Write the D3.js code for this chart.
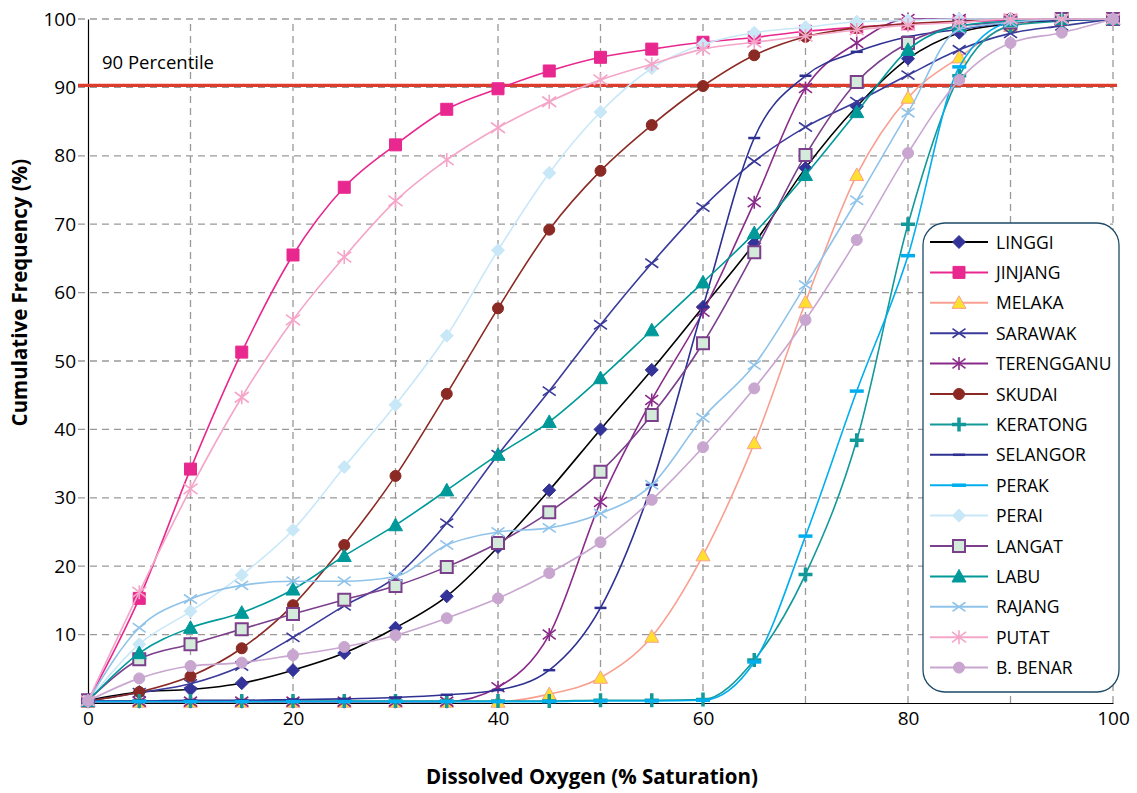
<!DOCTYPE html>
<html><head><meta charset="utf-8">
<script src="https://cdn.jsdelivr.net/npm/d3@7"></script>
<style>
html,body{margin:0;padding:0;background:#fff;}
svg{display:block;font-family:"Open Sans","Noto Sans",sans-serif;}
</style></head>
<body><svg id="c" width="1137" height="793"></svg>
<script>
const xValues = [0,5,10,15,20,25,30,35,40,45,50,55,60,65,70,75,80,85,90,95,100];
const xTicks = [0,20,40,60,80,100];
const yTicks = [10,20,30,40,50,60,70,80,90,100];
const seriesNames = ["LINGGI","JINJANG","MELAKA","SARAWAK","TERENGGANU","SKUDAI","KERATONG","SELANGOR","PERAK","PERAI","LANGAT","LABU","RAJANG","PUTAT","B. BENAR"];
const linggi     = [0.4,1.6,2.0,2.9,4.8,7.3,11.0,15.6,22.8,31.1,40.0,48.7,57.9,67.2,78.2,87.2,94.2,98.0,99.3,99.8,100];
const jinjang    = [0.3,15.3,34.2,51.3,65.5,75.4,81.6,86.8,89.8,92.4,94.4,95.6,96.6,97.3,98.2,98.8,99.3,99.6,99.8,100,100];
const melaka     = [0.2,0.2,0.2,0.2,0.2,0.2,0.2,0.2,0.2,1.3,3.7,9.7,21.6,38.0,58.6,77.2,88.5,94.4,99.0,100,100];
const sarawak    = [0.3,1.5,2.8,5.4,9.6,14.2,18.4,26.3,36.3,45.6,55.3,64.3,72.5,79.2,84.2,87.9,91.8,95.5,97.9,99.0,100];
const terengganu = [0.2,0.2,0.2,0.2,0.2,0.2,0.2,0.2,2.3,10.0,29.4,44.3,57.2,73.2,89.9,96.5,100,100,100,100,100];
const skudai     = [0.3,1.6,3.9,8.0,14.3,23.1,33.2,45.2,57.7,69.2,77.8,84.5,90.2,94.7,97.4,98.7,99.3,99.7,100,100,100];
const keratong   = [0.3,0.3,0.3,0.3,0.3,0.3,0.3,0.3,0.3,0.3,0.4,0.4,0.5,6.3,18.8,38.4,70.0,91.7,99.0,99.7,100];
const selangor   = [0.3,0.3,0.4,0.4,0.5,0.6,0.8,1.2,1.9,4.8,13.9,31.9,57.9,82.6,91.7,95.2,97.4,98.5,99.5,99.8,100];
const perak      = [0.2,0.2,0.2,0.2,0.2,0.2,0.2,0.2,0.2,0.2,0.3,0.3,0.4,6.0,24.4,45.6,65.4,93.0,99.5,100,100];
const perai      = [0.3,8.6,13.4,18.7,25.3,34.5,43.6,53.7,66.2,77.5,86.4,92.8,96.3,98.0,98.8,99.6,99.8,100,100,100,100];
const langat     = [0.4,6.4,8.6,10.8,13.0,15.1,17.1,19.9,23.4,27.9,33.8,42.1,52.6,65.9,80.1,90.8,96.5,99.0,99.5,100,100];
const labu       = [0.3,7.3,11.0,13.2,16.6,21.5,26.0,31.1,36.3,41.1,47.5,54.5,61.5,68.7,77.2,86.4,95.5,99.0,99.7,100,100];
const rajang     = [0.3,11.0,15.2,17.2,17.8,17.8,18.5,23.1,25.0,25.6,27.7,31.9,41.7,49.4,61.1,73.5,86.3,98.5,99.5,100,100];
const putat      = [0.3,16.2,31.3,44.7,56.0,65.2,73.4,79.4,84.1,87.9,91.1,93.4,95.6,96.6,97.5,98.4,99.1,99.5,100,100,100];
const bBenar     = [0.3,3.6,5.4,5.9,7.0,8.2,9.9,12.4,15.3,19.0,23.5,29.7,37.4,46.0,56.0,67.7,80.4,91.1,96.5,98.0,100];
const percentileValue = 90.3;

const seriesValues = [linggi,jinjang,melaka,sarawak,terengganu,skudai,keratong,selangor,perak,perai,langat,labu,rajang,putat,bBenar];
const styles = [
  {line:"#000000", marker:"diamond", fill:"#333399", stroke:"#333399", size:13},
  {line:"#e8288f", marker:"square", fill:"#e8288f", stroke:"#e8288f", size:12},
  {line:"#f8a090", marker:"triangle", fill:"#ffe030", stroke:"#f8a090", size:14},
  {line:"#3a3a9a", marker:"x", fill:"none", stroke:"#3a3a9a", size:13},
  {line:"#8a2a8a", marker:"asterisk", fill:"none", stroke:"#8a2a8a", size:13},
  {line:"#8b2a24", marker:"circle", fill:"#8b2a24", stroke:"#8b2a24", size:11},
  {line:"#13999a", marker:"plus", fill:"none", stroke:"#13999a", size:14},
  {line:"#2e3192", marker:"dash", fill:"none", stroke:"#2e3192", size:12},
  {line:"#00aeef", marker:"dash", fill:"none", stroke:"#00aeef", size:14},
  {line:"#c8e8f8", marker:"diamond", fill:"#c8e8f8", stroke:"#c8e8f8", size:13},
  {line:"#7b3f8c", marker:"square", fill:"#d4eadb", stroke:"#7b3f8c", size:12, outline:true},
  {line:"#00999a", marker:"triangle", fill:"#00999a", stroke:"#00999a", size:14},
  {line:"#8fc3ea", marker:"x", fill:"none", stroke:"#8fc3ea", size:13},
  {line:"#f4a6c8", marker:"asterisk", fill:"none", stroke:"#f4a6c8", size:14},
  {line:"#c8a6d0", marker:"circle", fill:"#c8a6d0", stroke:"#c8a6d0", size:11}
];

const svg = d3.select("#c");
const W = 1137, H = 793;
const margin = {left:88, right:W-1113, top:19, bottom:H-703};
const x = d3.scaleLinear().domain([0,100]).range([margin.left, W-margin.right]);
const y = d3.scaleLinear().domain([0,100]).range([H-margin.bottom, margin.top]);

// grid
const grid = svg.append("g");
grid.selectAll("line.h").data(yTicks).join("line")
  .attr("x1", x(0)-10).attr("x2", x(100)).attr("y1", d=>y(d)).attr("y2", d=>y(d))
  .attr("stroke","#999").attr("stroke-width",1.3).attr("stroke-dasharray","7,5");
grid.selectAll("line.v").data(d3.range(10,101,10)).join("line")
  .attr("x1", d=>x(d)).attr("x2", d=>x(d)).attr("y1", y(0)).attr("y2", y(100))
  .attr("stroke","#999").attr("stroke-width",1.3).attr("stroke-dasharray","7,5");

// axes
const xAxis = d3.axisBottom(x).tickValues(xTicks).tickSize(0).tickPadding(9);
const gx = svg.append("g").attr("transform",`translate(0,${y(0)})`).call(xAxis);
gx.select(".domain").attr("stroke","#000").attr("stroke-width",1.2);
gx.selectAll("text").attr("font-size",19).attr("fill","#000").attr("font-family","Open Sans");
const yAxis = d3.axisLeft(y).tickValues(yTicks).tickSize(0).tickPadding(12);
const gy = svg.append("g").attr("transform",`translate(${x(0)},0)`).call(yAxis);
gy.select(".domain").attr("stroke","#000").attr("stroke-width",1.2);
gy.selectAll("text").attr("font-size",19).attr("fill","#000").attr("font-family","Open Sans");

// axis titles
svg.append("text").attr("x",592).attr("y",784).attr("text-anchor","middle")
  .attr("font-size",20.5).attr("font-weight","bold").text("Dissolved Oxygen (% Saturation)");
svg.append("text").attr("transform",`translate(27,${y(60)}) rotate(-90)`).attr("text-anchor","middle")
  .attr("font-size",20.5).attr("font-weight","bold").text("Cumulative Frequency (%)");

// 90 percentile
svg.append("line").attr("x1",x(0)-10).attr("x2",x(100)+4).attr("y1",y(percentileValue)).attr("y2",y(percentileValue))
  .attr("stroke","#dc3c2c").attr("stroke-width",3.4);
svg.append("text").attr("x",x(0)+14).attr("y",y(percentileValue)-16).attr("font-size",18.5).text("90 Percentile");

function markerPath(type, s){
  const h = s/2;
  switch(type){
    case "diamond": return `M0,${-h}L${h},0L0,${h}L${-h},0Z`;
    case "square": return `M${-h},${-h}H${h}V${h}H${-h}Z`;
    case "triangle": return `M0,${-h}L${h},${h*0.8}L${-h},${h*0.8}Z`;
    case "circle": return d3.symbol(d3.symbolCircle, Math.PI*h*h)();
    case "x": return `M${-h},${-h*0.7}L${h},${h*0.7}M${-h},${h*0.7}L${h},${-h*0.7}`;
    case "asterisk": return `M${-h},${-h*0.75}L${h},${h*0.75}M${-h},${h*0.75}L${h},${-h*0.75}M0,${-h}V${h}`;
    case "plus": return `M${-h},0H${h}M0,${-h}V${h}`;
    case "dash": return `M${-h},0H${h}`;
  }
}
function strokeW(st){
  if (st.marker==="plus") return 3.5;
  if (st.marker==="dash") return st.size>12?3.5:2.5;
  if (st.outline) return 2;
  if (st.marker==="x"||st.marker==="asterisk") return 1.6;
  return 1;
}

const line = d3.line().x(d=>x(d[0])).y(d=>y(d[1])).curve(d3.curveMonotoneX);
const plot = svg.append("g");
seriesValues.forEach((vals,i)=>{
  const st = styles[i];
  const pts = xValues.map((xv,j)=>[xv, vals[j]]);
  const g = plot.append("g");
  g.append("path").datum(pts).attr("d",line).attr("fill","none").attr("stroke",st.line).attr("stroke-width",1.6);
  g.selectAll("path.m").data(pts).join("path")
    .attr("transform",d=>`translate(${x(d[0])},${y(d[1])})`)
    .attr("d",markerPath(st.marker, st.size))
    .attr("fill",st.fill).attr("stroke",st.stroke).attr("stroke-width",strokeW(st));
});

// legend
const lg = svg.append("g");
lg.append("rect").attr("x",923).attr("y",223).attr("width",196).attr("height",469).attr("rx",22)
  .attr("fill","#fff").attr("stroke","#1d4a68").attr("stroke-width",1.3);
seriesNames.forEach((name,i)=>{
  const st = styles[i];
  const cy = 242 + i*30.4;
  lg.append("line").attr("x1",930).attr("x2",988).attr("y1",cy).attr("y2",cy).attr("stroke",st.line).attr("stroke-width",2);
  lg.append("path").attr("transform",`translate(959,${cy})`).attr("d",markerPath(st.marker, st.size))
    .attr("fill",st.fill).attr("stroke",st.stroke).attr("stroke-width",strokeW(st));
  lg.append("text").attr("x",996).attr("y",cy+6.5).attr("font-size",17.5).text(name);
});
</script></body></html>
